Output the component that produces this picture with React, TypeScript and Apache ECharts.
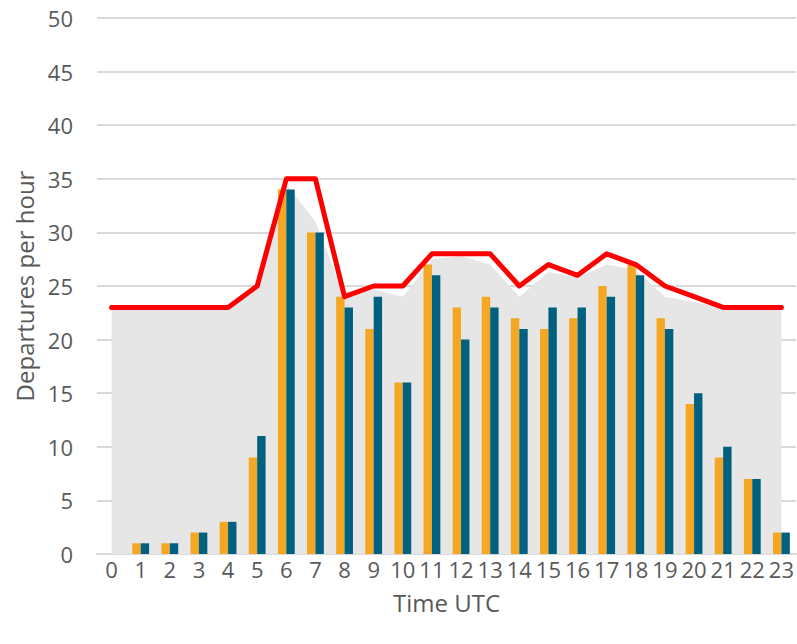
import React, { useEffect, useRef } from "react";
import * as echarts from "echarts";

const hours = ["0","1","2","3","4","5","6","7","8","9","10","11","12","13","14","15","16","17","18","19","20","21","22","23"];
const seriesOrange = [0,1,1,2,3,9,34,30,24,21,16,27,23,24,22,21,22,25,27,22,14,9,7,2];
const seriesTeal = [0,1,1,2,3,11,34,30,23,24,16,26,20,23,21,23,23,24,26,21,15,10,7,2];
const greyArea = [23,23,23,23,23,25,34.5,31,24,24.7,24,27.5,27.8,27,24,26.3,25.8,27,26.5,24,23.5,23,23,23];
const redLine = [23,23,23,23,23,25,35,35,24,25,25,28,28,28,25,27,26,28,27,25,24,23,23,23];
const yTicks = { min: 0, max: 50, interval: 5 };

export default function App() {
  const ref = useRef<HTMLDivElement>(null);
  useEffect(() => {
    document.body.style.margin = "0";
    const chart = echarts.init(ref.current!, null, { renderer: "svg" });
    const font = "'Open Sans', 'Noto Sans', sans-serif";
    chart.setOption({
      animation: false,
      grid: { left: 97, right: 1, top: 18, bottom: 90 },
      xAxis: {
        type: "category",
        data: hours,
        boundaryGap: true,
        axisLine: { show: true, lineStyle: { color: "#d9d9d9", width: 2 } },
        axisTick: { show: false },
        axisLabel: { color: "#595959", fontSize: 22, fontFamily: font, margin: 4, interval: 0 },
        name: "Time UTC",
        nameLocation: "middle",
        nameGap: 36,
        nameTextStyle: { color: "#595959", fontSize: 24, fontFamily: font, verticalAlign: "top" },
      },
      yAxis: {
        type: "value",
        min: yTicks.min,
        max: yTicks.max,
        interval: yTicks.interval,
        axisLine: { show: false },
        axisTick: { show: false },
        splitLine: { lineStyle: { color: "#d9d9d9", width: 2 } },
        axisLabel: { color: "#595959", fontSize: 22, fontFamily: font, margin: 24 },
        name: "Departures per hour",
        nameLocation: "middle",
        nameGap: 61,
        nameTextStyle: { color: "#595959", fontSize: 24, fontFamily: font },
      },
      series: [
        {
          type: "line",
          data: greyArea,
          symbol: "none",
          lineStyle: { width: 0, color: "#e6e6e6" },
          areaStyle: { color: "#e6e6e6", opacity: 1 },
          z: 1,
        },
        {
          type: "bar",
          data: seriesOrange,
          barWidth: 8.4,
          barGap: "0%",
          itemStyle: { color: "#f5a623" },
          z: 2,
        },
        {
          type: "bar",
          data: seriesTeal,
          barWidth: 8.4,
          barGap: "0%",
          itemStyle: { color: "#00607f" },
          z: 2,
        },
        {
          type: "line",
          data: redLine,
          symbol: "none",
          lineStyle: { width: 5, color: "#ff0000", cap: "round", join: "round" },
          z: 3,
        },
      ],
    });
    return () => chart.dispose();
  }, []);
  return <div ref={ref} style={{ position: "absolute", left: 0, top: 0, width: 797, height: 644 }} />;
}
